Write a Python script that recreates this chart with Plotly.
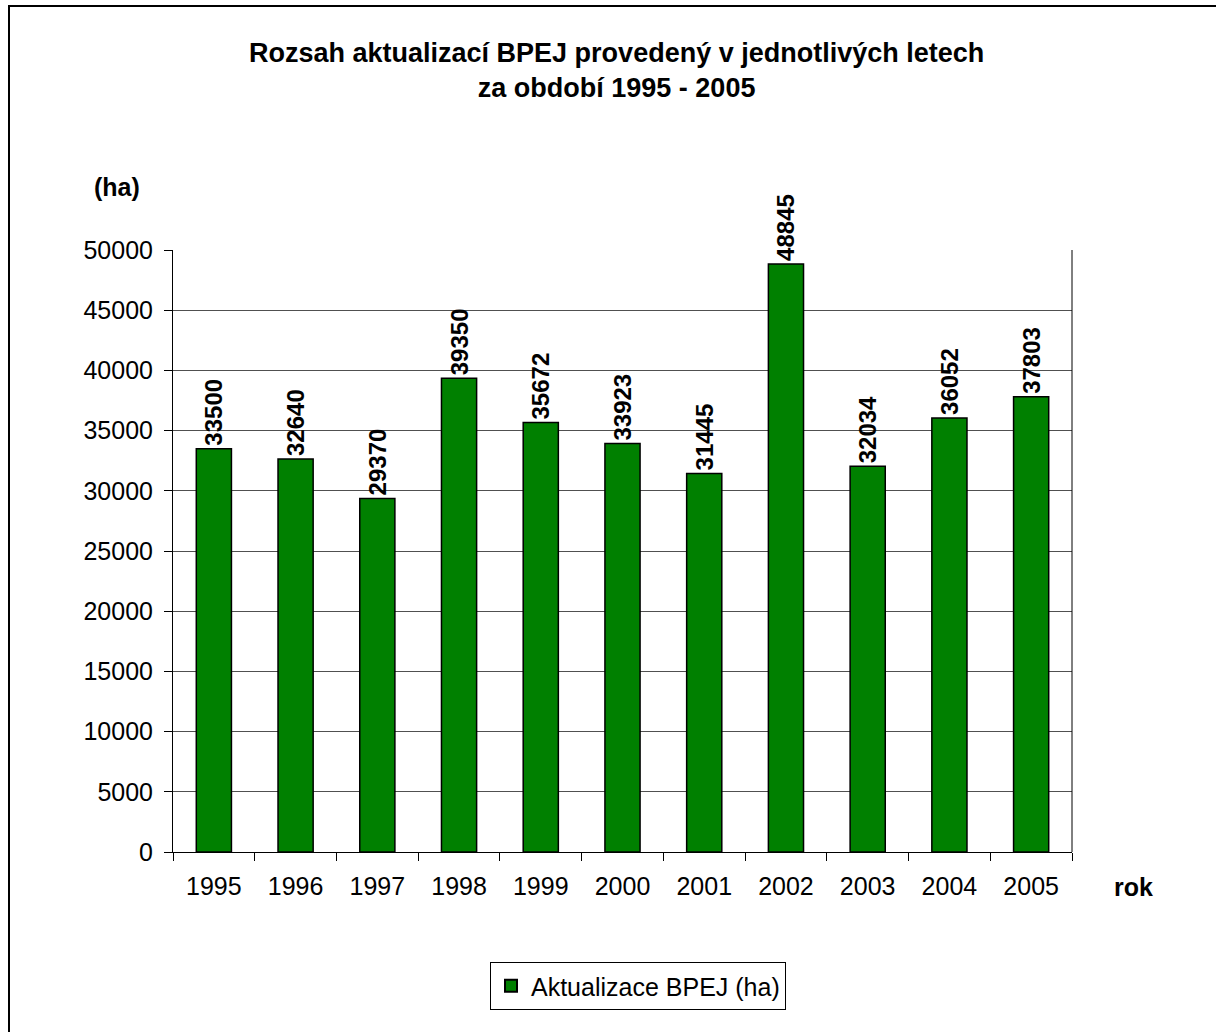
import plotly.graph_objects as go

years = ["1995", "1996", "1997", "1998", "1999", "2000", "2001", "2002", "2003", "2004", "2005"]
area_ha = [33500, 32640, 29370, 39350, 35672, 33923, 31445, 48845, 32034, 36052, 37803]
y_ticks = list(range(0, 50001, 5000))
y_tick_labels = [str(v) for v in y_ticks]

W, H = 1216, 1032
L, R, T, B = 173, 1072, 250, 852  # plot area in pixels
pw, ph = R - L, B - T

def px_x(x):
    return (x - L) / pw

def px_y(y):
    return (B - y) / ph

FONT = "Liberation Sans, Arial, sans-serif"

fig = go.Figure()
fig.add_trace(go.Bar(
    x=years, y=area_ha,
    name="Aktualizace BPEJ (ha)",
    marker=dict(color="#008000", line=dict(color="black", width=1.5)),
    text=[str(v) for v in area_ha],
    textposition="outside",
    textangle=-90,
    constraintext="none",
    textfont=dict(family=FONT, size=24, color="black", weight="bold"),
    cliponaxis=False,
))

fig.update_layout(
    width=W, height=H,
    margin=dict(l=L, r=W - R, t=T, b=H - B, autoexpand=False),
    paper_bgcolor="white", plot_bgcolor="white",
    font=dict(family=FONT, size=25, color="black"),
    bargap=0.57,
    showlegend=True,
    legend=dict(
        x=px_x(638), y=px_y(986), xanchor="center", yanchor="middle",
        bordercolor="black", borderwidth=1,
        font=dict(family=FONT, size=25, color="black"),
        itemsizing="constant",
    ),
    xaxis=dict(
        type="category", showgrid=False,
        showline=True, linecolor="black", linewidth=1,
        ticks="outside", tickson="boundaries", ticklen=8, tickcolor="black",
        tickfont=dict(family=FONT, size=25, color="black"),
        ticklabelstandoff=12,
    ),
    yaxis=dict(
        range=[0, 50000], tickvals=y_ticks, ticktext=y_tick_labels,
        showgrid=True, gridcolor="#505050", gridwidth=1,
        showline=True, linecolor="black", linewidth=1,
        ticks="outside", ticklen=8, tickcolor="black",
        tickfont=dict(family=FONT, size=25, color="black"),
        ticklabelstandoff=6,
        zeroline=False,
    ),
)

# right edge of the plot frame
fig.add_shape(type="line", xref="paper", yref="paper", x0=1, x1=1, y0=0, y1=1,
              line=dict(color="black", width=1))
# outer chart border
fig.add_shape(type="rect", xref="paper", yref="paper",
              x0=px_x(9), x1=px_x(1222), y0=px_y(1040), y1=px_y(6),
              line=dict(color="black", width=2), layer="above")

fig.add_annotation(
    text="Rozsah aktualizací BPEJ provedený v jednotlivých letech<br>za období 1995 - 2005",
    xref="paper", yref="paper", x=px_x(616), y=px_y(70),
    xanchor="center", yanchor="middle", showarrow=False,
    font=dict(family=FONT, size=27, color="black", weight="bold"),
)
fig.add_annotation(text="(ha)", xref="paper", yref="paper", x=px_x(117), y=px_y(187),
                   xanchor="center", yanchor="middle", showarrow=False,
                   font=dict(family=FONT, size=25, color="black", weight="bold"))
fig.add_annotation(text="rok", xref="paper", yref="paper", x=px_x(1133), y=px_y(887),
                   xanchor="center", yanchor="middle", showarrow=False,
                   font=dict(family=FONT, size=25, color="black", weight="bold"))

fig.write_html("out.html")
